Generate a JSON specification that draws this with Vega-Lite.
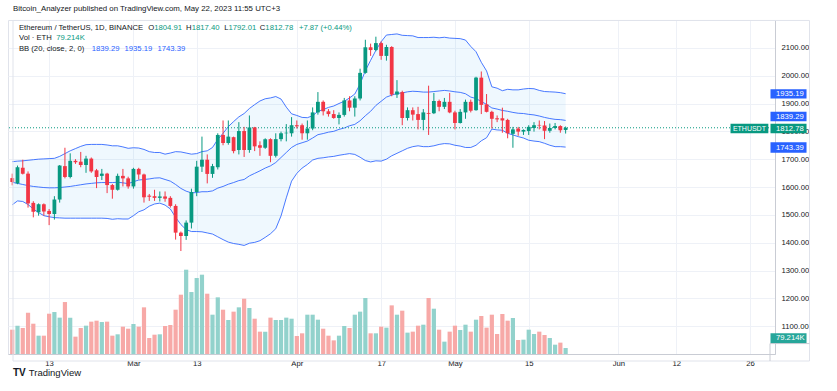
{
"$schema": "https://vega.github.io/schema/vega-lite/v6.json",
"width": 767, "height": 334,
"autosize": {"type": "none"},
"padding": {"left": 8, "top": 20, "right": 62, "bottom": 37},
"background": "#ffffff",
"config": {"view": {"stroke": "#e0e3eb"}, "font": "Liberation Sans", "axis": {"labelFont": "Liberation Sans"}},
"data": {"values": [
{"d":"2023-02-06","o":1632,"h":1648,"l":1606,"c":1618,"v":321,"bu":1691,"bm":1617,"bl":1536},
{"d":"2023-02-07","o":1613,"h":1677,"l":1610,"c":1671,"v":374,"bu":1693,"bm":1613,"bl":1550},
{"d":"2023-02-08","o":1669,"h":1698,"l":1645,"c":1648,"v":343,"bu":1694,"bm":1609,"bl":1548},
{"d":"2023-02-09","o":1648,"h":1656,"l":1526,"c":1541,"v":546,"bu":1696,"bm":1605,"bl":1537},
{"d":"2023-02-10","o":1543,"h":1549,"l":1491,"c":1511,"v":400,"bu":1698,"bm":1602,"bl":1521},
{"d":"2023-02-11","o":1509,"h":1541,"l":1497,"c":1538,"v":242,"bu":1700,"bm":1600,"bl":1508},
{"d":"2023-02-12","o":1538,"h":1541,"l":1497,"c":1512,"v":242,"bu":1701,"bm":1598,"bl":1497},
{"d":"2023-02-13","o":1514,"h":1521,"l":1463,"c":1503,"v":532,"bu":1702,"bm":1597,"bl":1493},
{"d":"2023-02-14","o":1503,"h":1567,"l":1483,"c":1555,"v":554,"bu":1703,"bm":1597,"bl":1490},
{"d":"2023-02-15","o":1555,"h":1679,"l":1544,"c":1677,"v":480,"bu":1710,"bm":1598,"bl":1489},
{"d":"2023-02-16","o":1675,"h":1741,"l":1631,"c":1636,"v":686,"bu":1720,"bm":1600,"bl":1488},
{"d":"2023-02-17","o":1636,"h":1721,"l":1631,"c":1694,"v":480,"bu":1730,"bm":1602,"bl":1488},
{"d":"2023-02-18","o":1694,"h":1700,"l":1683,"c":1689,"v":229,"bu":1738,"bm":1605,"bl":1488},
{"d":"2023-02-19","o":1691,"h":1726,"l":1671,"c":1679,"v":343,"bu":1746,"bm":1608,"bl":1488},
{"d":"2023-02-20","o":1679,"h":1712,"l":1651,"c":1702,"v":374,"bu":1752,"bm":1611,"bl":1488},
{"d":"2023-02-21","o":1702,"h":1706,"l":1651,"c":1656,"v":427,"bu":1753,"bm":1613,"bl":1488},
{"d":"2023-02-22","o":1660,"h":1665,"l":1596,"c":1636,"v":440,"bu":1753,"bm":1615,"bl":1488},
{"d":"2023-02-23","o":1640,"h":1665,"l":1625,"c":1648,"v":422,"bu":1753,"bm":1616,"bl":1488},
{"d":"2023-02-24","o":1648,"h":1651,"l":1578,"c":1607,"v":427,"bu":1751,"bm":1616,"bl":1487},
{"d":"2023-02-25","o":1607,"h":1611,"l":1558,"c":1590,"v":242,"bu":1748,"bm":1616,"bl":1484},
{"d":"2023-02-26","o":1590,"h":1648,"l":1587,"c":1640,"v":260,"bu":1748,"bm":1617,"bl":1486},
{"d":"2023-02-27","o":1640,"h":1665,"l":1602,"c":1631,"v":361,"bu":1744,"bm":1615,"bl":1485},
{"d":"2023-02-28","o":1631,"h":1637,"l":1594,"c":1602,"v":334,"bu":1739,"bm":1612,"bl":1485},
{"d":"2023-03-01","o":1602,"h":1669,"l":1594,"c":1665,"v":396,"bu":1741,"bm":1619,"bl":1497},
{"d":"2023-03-02","o":1665,"h":1669,"l":1627,"c":1645,"v":361,"bu":1740,"bm":1625,"bl":1511},
{"d":"2023-03-03","o":1645,"h":1648,"l":1544,"c":1563,"v":616,"bu":1735,"bm":1627,"bl":1518},
{"d":"2023-03-04","o":1569,"h":1575,"l":1550,"c":1565,"v":211,"bu":1727,"bm":1629,"bl":1531},
{"d":"2023-03-05","o":1567,"h":1590,"l":1550,"c":1561,"v":255,"bu":1724,"bm":1632,"bl":1539},
{"d":"2023-03-06","o":1561,"h":1584,"l":1548,"c":1566,"v":260,"bu":1724,"bm":1633,"bl":1542},
{"d":"2023-03-07","o":1566,"h":1584,"l":1547,"c":1558,"v":370,"bu":1718,"bm":1627,"bl":1535},
{"d":"2023-03-08","o":1561,"h":1567,"l":1526,"c":1532,"v":383,"bu":1722,"bm":1621,"bl":1521},
{"d":"2023-03-09","o":1532,"h":1538,"l":1411,"c":1436,"v":585,"bu":1727,"bm":1609,"bl":1491},
{"d":"2023-03-10","o":1436,"h":1440,"l":1370,"c":1424,"v":783,"bu":1726,"bm":1595,"bl":1465},
{"d":"2023-03-11","o":1424,"h":1480,"l":1410,"c":1472,"v":1113,"bu":1722,"bm":1585,"bl":1447},
{"d":"2023-03-12","o":1472,"h":1594,"l":1451,"c":1582,"v":818,"bu":1718,"bm":1579,"bl":1440},
{"d":"2023-03-13","o":1582,"h":1694,"l":1567,"c":1673,"v":1003,"bu":1720,"bm":1580,"bl":1440},
{"d":"2023-03-14","o":1673,"h":1781,"l":1654,"c":1698,"v":1047,"bu":1727,"bm":1583,"bl":1439},
{"d":"2023-03-15","o":1698,"h":1717,"l":1613,"c":1647,"v":796,"bu":1730,"bm":1583,"bl":1435},
{"d":"2023-03-16","o":1647,"h":1683,"l":1633,"c":1675,"v":519,"bu":1742,"bm":1586,"bl":1431},
{"d":"2023-03-17","o":1671,"h":1793,"l":1663,"c":1787,"v":748,"bu":1771,"bm":1596,"bl":1421},
{"d":"2023-03-18","o":1787,"h":1839,"l":1750,"c":1758,"v":585,"bu":1793,"bm":1602,"bl":1411},
{"d":"2023-03-19","o":1758,"h":1839,"l":1752,"c":1781,"v":449,"bu":1817,"bm":1610,"bl":1402},
{"d":"2023-03-20","o":1779,"h":1781,"l":1721,"c":1729,"v":559,"bu":1835,"bm":1616,"bl":1397},
{"d":"2023-03-21","o":1733,"h":1833,"l":1717,"c":1801,"v":616,"bu":1852,"bm":1623,"bl":1394},
{"d":"2023-03-22","o":1801,"h":1816,"l":1708,"c":1733,"v":730,"bu":1864,"bm":1627,"bl":1390},
{"d":"2023-03-23","o":1733,"h":1857,"l":1723,"c":1814,"v":607,"bu":1882,"bm":1640,"bl":1398},
{"d":"2023-03-24","o":1814,"h":1816,"l":1729,"c":1746,"v":466,"bu":1896,"bm":1649,"bl":1401},
{"d":"2023-03-25","o":1750,"h":1764,"l":1712,"c":1741,"v":295,"bu":1909,"bm":1658,"bl":1407},
{"d":"2023-03-26","o":1741,"h":1775,"l":1737,"c":1772,"v":295,"bu":1917,"bm":1668,"bl":1419},
{"d":"2023-03-27","o":1772,"h":1775,"l":1689,"c":1712,"v":480,"bu":1920,"bm":1676,"bl":1432},
{"d":"2023-03-28","o":1712,"h":1793,"l":1706,"c":1772,"v":449,"bu":1925,"bm":1688,"bl":1450},
{"d":"2023-03-29","o":1772,"h":1799,"l":1764,"c":1793,"v":449,"bu":1916,"bm":1706,"bl":1496},
{"d":"2023-03-30","o":1793,"h":1826,"l":1764,"c":1795,"v":480,"bu":1887,"bm":1724,"bl":1561},
{"d":"2023-03-31","o":1793,"h":1851,"l":1781,"c":1822,"v":466,"bu":1863,"bm":1742,"bl":1621},
{"d":"2023-04-01","o":1822,"h":1839,"l":1810,"c":1818,"v":238,"bu":1857,"bm":1753,"bl":1649},
{"d":"2023-04-02","o":1822,"h":1828,"l":1770,"c":1793,"v":273,"bu":1850,"bm":1759,"bl":1668},
{"d":"2023-04-03","o":1793,"h":1839,"l":1770,"c":1810,"v":519,"bu":1849,"bm":1765,"bl":1681},
{"d":"2023-04-04","o":1810,"h":1886,"l":1804,"c":1868,"v":519,"bu":1856,"bm":1776,"bl":1697},
{"d":"2023-04-05","o":1868,"h":1941,"l":1860,"c":1906,"v":453,"bu":1872,"bm":1788,"bl":1703},
{"d":"2023-04-06","o":1906,"h":1911,"l":1857,"c":1872,"v":334,"bu":1878,"bm":1792,"bl":1705},
{"d":"2023-04-07","o":1872,"h":1880,"l":1853,"c":1862,"v":242,"bu":1886,"bm":1797,"bl":1708},
{"d":"2023-04-08","o":1862,"h":1876,"l":1845,"c":1848,"v":180,"bu":1891,"bm":1800,"bl":1710},
{"d":"2023-04-09","o":1848,"h":1868,"l":1825,"c":1859,"v":242,"bu":1900,"bm":1807,"bl":1714},
{"d":"2023-04-10","o":1859,"h":1920,"l":1853,"c":1911,"v":370,"bu":1908,"bm":1812,"bl":1717},
{"d":"2023-04-11","o":1911,"h":1926,"l":1872,"c":1885,"v":343,"bu":1920,"bm":1820,"bl":1720},
{"d":"2023-04-12","o":1885,"h":1926,"l":1853,"c":1918,"v":519,"bu":1934,"bm":1825,"bl":1717},
{"d":"2023-04-13","o":1918,"h":2025,"l":1911,"c":2010,"v":559,"bu":1970,"bm":1838,"bl":1707},
{"d":"2023-04-14","o":2010,"h":2129,"l":2007,"c":2102,"v":739,"bu":2018,"bm":1856,"bl":1695},
{"d":"2023-04-15","o":2102,"h":2115,"l":2071,"c":2092,"v":273,"bu":2055,"bm":1872,"bl":1690},
{"d":"2023-04-16","o":2092,"h":2140,"l":2088,"c":2117,"v":273,"bu":2091,"bm":1893,"bl":1694},
{"d":"2023-04-17","o":2117,"h":2123,"l":2057,"c":2071,"v":361,"bu":2122,"bm":1908,"bl":1693},
{"d":"2023-04-18","o":2071,"h":2111,"l":2054,"c":2103,"v":348,"bu":2146,"bm":1923,"bl":1700},
{"d":"2023-04-19","o":2103,"h":2106,"l":1926,"c":1932,"v":642,"bu":2148,"bm":1930,"bl":1712},
{"d":"2023-04-20","o":1932,"h":1984,"l":1920,"c":1943,"v":519,"bu":2150,"bm":1936,"bl":1721},
{"d":"2023-04-21","o":1941,"h":1946,"l":1822,"c":1848,"v":572,"bu":2145,"bm":1938,"bl":1730},
{"d":"2023-04-22","o":1848,"h":1886,"l":1839,"c":1876,"v":282,"bu":2144,"bm":1942,"bl":1739},
{"d":"2023-04-23","o":1876,"h":1886,"l":1839,"c":1860,"v":295,"bu":2143,"bm":1944,"bl":1745},
{"d":"2023-04-24","o":1862,"h":1888,"l":1807,"c":1841,"v":374,"bu":2137,"bm":1943,"bl":1748},
{"d":"2023-04-25","o":1841,"h":1880,"l":1804,"c":1868,"v":387,"bu":2137,"bm":1941,"bl":1745},
{"d":"2023-04-26","o":1866,"h":1964,"l":1787,"c":1863,"v":739,"bu":2137,"bm":1941,"bl":1745},
{"d":"2023-04-27","o":1865,"h":1938,"l":1862,"c":1909,"v":598,"bu":2138,"bm":1943,"bl":1748},
{"d":"2023-04-28","o":1909,"h":1914,"l":1872,"c":1888,"v":321,"bu":2136,"bm":1945,"bl":1753},
{"d":"2023-04-29","o":1888,"h":1920,"l":1880,"c":1906,"v":163,"bu":2138,"bm":1947,"bl":1756},
{"d":"2023-04-30","o":1906,"h":1938,"l":1865,"c":1868,"v":295,"bu":2135,"bm":1945,"bl":1755},
{"d":"2023-05-01","o":1868,"h":1874,"l":1807,"c":1830,"v":374,"bu":2134,"bm":1942,"bl":1750},
{"d":"2023-05-02","o":1830,"h":1880,"l":1828,"c":1870,"v":317,"bu":2133,"bm":1940,"bl":1747},
{"d":"2023-05-03","o":1868,"h":1914,"l":1845,"c":1906,"v":387,"bu":2128,"bm":1935,"bl":1742},
{"d":"2023-05-04","o":1906,"h":1914,"l":1868,"c":1874,"v":295,"bu":2105,"bm":1923,"bl":1742},
{"d":"2023-05-05","o":1876,"h":1996,"l":1874,"c":1993,"v":453,"bu":2086,"bm":1918,"bl":1750},
{"d":"2023-05-06","o":1993,"h":2015,"l":1862,"c":1895,"v":502,"bu":2048,"bm":1907,"bl":1766},
{"d":"2023-05-07","o":1897,"h":1934,"l":1868,"c":1870,"v":348,"bu":2017,"bm":1897,"bl":1777},
{"d":"2023-05-08","o":1870,"h":1874,"l":1810,"c":1845,"v":519,"bu":1960,"bm":1884,"bl":1808},
{"d":"2023-05-09","o":1847,"h":1857,"l":1833,"c":1843,"v":264,"bu":1955,"bm":1880,"bl":1805},
{"d":"2023-05-10","o":1847,"h":1885,"l":1795,"c":1839,"v":528,"bu":1946,"bm":1875,"bl":1804},
{"d":"2023-05-11","o":1841,"h":1845,"l":1775,"c":1793,"v":440,"bu":1951,"bm":1872,"bl":1793},
{"d":"2023-05-12","o":1791,"h":1816,"l":1741,"c":1807,"v":475,"bu":1949,"bm":1868,"bl":1787},
{"d":"2023-05-13","o":1810,"h":1816,"l":1784,"c":1799,"v":185,"bu":1949,"bm":1865,"bl":1781},
{"d":"2023-05-14","o":1799,"h":1807,"l":1787,"c":1805,"v":189,"bu":1952,"bm":1864,"bl":1776},
{"d":"2023-05-15","o":1801,"h":1822,"l":1787,"c":1816,"v":321,"bu":1954,"bm":1861,"bl":1768},
{"d":"2023-05-16","o":1812,"h":1833,"l":1799,"c":1822,"v":264,"bu":1953,"bm":1859,"bl":1765},
{"d":"2023-05-17","o":1823,"h":1839,"l":1807,"c":1821,"v":295,"bu":1947,"bm":1855,"bl":1763},
{"d":"2023-05-18","o":1821,"h":1837,"l":1772,"c":1802,"v":251,"bu":1943,"bm":1850,"bl":1757},
{"d":"2023-05-19","o":1802,"h":1828,"l":1795,"c":1812,"v":211,"bu":1942,"bm":1846,"bl":1750},
{"d":"2023-05-20","o":1812,"h":1830,"l":1807,"c":1819,"v":123,"bu":1941,"bm":1843,"bl":1745},
{"d":"2023-05-21","o":1819,"h":1822,"l":1795,"c":1804,"v":150,"bu":1939,"bm":1842,"bl":1745},
{"d":"2023-05-22","o":1804.91,"h":1817.40,"l":1792.01,"c":1812.78,"v":79.214,"bu":1935.19,"bm":1839.29,"bl":1743.39}
]},
"layer": [
{
"mark": {"type": "bar", "width": 4.2, "clip": true},
"encoding": {
"x": {"field": "d", "type": "temporal", "scale": {"type": "utc", "domain": [1675654200000, 1688064000000]},
"axis": {"orient": "bottom", "title": null, "values": [1676246400000, 1677628800000, 1678665600000, 1680307200000, 1681689600000, 1682899200000, 1684108800000, 1685577600000, 1686528000000, 1687737600000], "tickCount": 30,
"labelExpr": "utcdate(datum.value) == 1 ? utcFormat(datum.value, '%b') : utcFormat(datum.value, '%-d')",
"ticks": false, "labelPadding": 5, "labelFontSize": 7.7, "labelColor": "#131722", "domainColor": "#c9ccd4", "grid": true, "gridColor": "#eef1f7", "labelFlush": false, "labelOverlap": false}},
"y": {"field": "v", "type": "quantitative", "scale": {"domain": [0, 4409]}, "axis": null},
"color": {"condition": {"test": "datum.c >= datum.o", "value": "#92d2cc"}, "value": "#f7a9a7"}
}
},
{
"layer": [
{
"mark": {"type": "area", "color": "#2196F3", "opacity": 0.07, "clip": true},
"encoding": {
"x": {"field": "d", "type": "temporal", "scale": {"type": "utc", "domain": [1675654200000, 1688064000000]}},
"y": {"field": "bl", "type": "quantitative", "scale": {"domain": [1037.4, 2198.4]},
"axis": {"orient": "right", "title": null, "values": [1100, 1200, 1300, 1400, 1500, 1600, 1700, 1800, 1900, 2000, 2100], "tickCount": 30, "format": ".2f", "ticks": false, "labelPadding": 6, "labelFontSize": 7.7, "labelColor": "#131722", "domainColor": "#c9ccd4", "grid": true, "gridColor": "#eef1f7", "labelOverlap": false, "labelFlush": false}},
"y2": {"field": "bu"}
}
},
{"mark": {"type": "line", "color": "#2962FF", "strokeWidth": 1, "opacity": 0.85, "clip": true},
"encoding": {"x": {"field": "d", "type": "temporal"}, "y": {"field": "bu", "type": "quantitative"}}},
{"mark": {"type": "line", "color": "#2962FF", "strokeWidth": 1, "opacity": 0.85, "clip": true},
"encoding": {"x": {"field": "d", "type": "temporal"}, "y": {"field": "bm", "type": "quantitative"}}},
{"mark": {"type": "line", "color": "#2962FF", "strokeWidth": 1, "opacity": 0.85, "clip": true},
"encoding": {"x": {"field": "d", "type": "temporal"}, "y": {"field": "bl", "type": "quantitative"}}},
{"data": {"values": [{}]}, "mark": {"type": "rule", "color": "#089981", "strokeDash": [1, 2], "strokeWidth": 1, "clip": true},
"encoding": {"y": {"datum": 1812.78, "type": "quantitative"}}},
{"mark": {"type": "rule", "strokeWidth": 1, "clip": true},
"encoding": {"x": {"field": "d", "type": "temporal"}, "y": {"field": "l", "type": "quantitative"}, "y2": {"field": "h"},
"color": {"condition": {"test": "datum.c >= datum.o", "value": "#089981"}, "value": "#f23645"}}},
{"mark": {"type": "bar", "width": 3.8, "clip": true},
"encoding": {"x": {"field": "d", "type": "temporal"}, "y": {"field": "o", "type": "quantitative"}, "y2": {"field": "c"},
"color": {"condition": {"test": "datum.c >= datum.o", "value": "#089981"}, "value": "#f23645"}}},

{"data": {"values": [{}]}, "mark": {"type": "rect", "color": "#2962FF", "clip": false},
"encoding": {"x": {"datum": 1688072090000, "type": "temporal"}, "x2": {"datum": 1688662760000}, "y": {"datum": 1951.6, "type": "quantitative"}, "y2": {"datum": 1917.9}}},
{"data": {"values": [{}]}, "mark": {"type": "text", "color": "#ffffff", "align": "left", "baseline": "middle", "fontSize": 7.7, "clip": false},
"encoding": {"x": {"datum": 1688161186530, "type": "temporal"}, "y": {"datum": 1934.5, "type": "quantitative"}, "text": {"value": "1935.19"}}},
{"data": {"values": [{}]}, "mark": {"type": "rect", "color": "#2962FF", "clip": false},
"encoding": {"x": {"datum": 1688072090000, "type": "temporal"}, "x2": {"datum": 1688662760000}, "y": {"datum": 1870.6, "type": "quantitative"}, "y2": {"datum": 1835.8}}},
{"data": {"values": [{}]}, "mark": {"type": "text", "color": "#ffffff", "align": "left", "baseline": "middle", "fontSize": 7.7, "clip": false},
"encoding": {"x": {"datum": 1688161186530, "type": "temporal"}, "y": {"datum": 1853.2, "type": "quantitative"}, "text": {"value": "1839.29"}}},
{"data": {"values": [{}]}, "mark": {"type": "rect", "color": "#089981", "clip": false},
"encoding": {"x": {"datum": 1688072090000, "type": "temporal"}, "x2": {"datum": 1688662760000}, "y": {"datum": 1827.5, "type": "quantitative"}, "y2": {"datum": 1792.7}}},
{"data": {"values": [{}]}, "mark": {"type": "text", "color": "#ffffff", "align": "left", "baseline": "middle", "fontSize": 7.7, "clip": false},
"encoding": {"x": {"datum": 1688161186530, "type": "temporal"}, "y": {"datum": 1810.1, "type": "quantitative"}, "text": {"value": "1812.78"}}},
{"data": {"values": [{}]}, "mark": {"type": "rect", "color": "#089981", "clip": false},
"encoding": {"x": {"datum": 1687416916867, "type": "temporal"}, "x2": {"datum": 1688036602261}, "y": {"datum": 1827.5, "type": "quantitative"}, "y2": {"datum": 1792.7}}},
{"data": {"values": [{}]}, "mark": {"type": "text", "color": "#ffffff", "align": "center", "baseline": "middle", "fontSize": 7, "clip": false},
"encoding": {"x": {"datum": 1687726759564, "type": "temporal"}, "y": {"datum": 1810.1, "type": "quantitative"}, "text": {"value": "ETHUSDT"}}},
{"data": {"values": [{}]}, "mark": {"type": "rect", "color": "#2962FF", "clip": false},
"encoding": {"x": {"datum": 1688072090000, "type": "temporal"}, "x2": {"datum": 1688662760000}, "y": {"datum": 1760.4, "type": "quantitative"}, "y2": {"datum": 1723.2}}},
{"data": {"values": [{}]}, "mark": {"type": "text", "color": "#ffffff", "align": "left", "baseline": "middle", "fontSize": 7.7, "clip": false},
"encoding": {"x": {"datum": 1688161186530, "type": "temporal"}, "y": {"datum": 1741.9, "type": "quantitative"}, "text": {"value": "1743.39"}}},
{"data": {"values": [{}]}, "mark": {"type": "rect", "color": "#26a69a", "clip": false},
"encoding": {"x": {"datum": 1688072090000, "type": "temporal"}, "x2": {"datum": 1688662760000}, "y": {"datum": 1074.6, "type": "quantitative"}, "y2": {"datum": 1037.4}}},
{"data": {"values": [{}]}, "mark": {"type": "text", "color": "#ffffff", "align": "left", "baseline": "middle", "fontSize": 7.7, "clip": false},
"encoding": {"x": {"datum": 1688161186530, "type": "temporal"}, "y": {"datum": 1055.8, "type": "quantitative"}, "text": {"value": "79.214K"}}},

{"data": {"values": [{}]}, "mark": {"type": "rule", "color": "#e0e3eb", "clip": false},
"encoding": {"x": {"datum": 1688711299091, "type": "temporal"}, "y": {"datum": 2198.4, "type": "quantitative"}, "y2": {"datum": 974.8}}},
{"data": {"values": [{}]}, "mark": {"type": "rule", "color": "#e0e3eb", "clip": false},
"encoding": {"x": {"datum": 1675654200000, "type": "temporal"}, "x2": {"datum": 1688711299091}, "y": {"datum": 974.8, "type": "quantitative"}}},
{"data": {"values": [{}]}, "mark": {"type": "rule", "color": "#e0e3eb", "clip": false},
"encoding": {"x": {"datum": 1675654200000, "type": "temporal"}, "x2": {"datum": 1688711299091}, "y": {"datum": 2198.4, "type": "quantitative"}}},
{"data": {"values": [{}]}, "mark": {"type": "rule", "color": "#e0e3eb", "clip": false},
"encoding": {"x": {"datum": 1675654200000, "type": "temporal"}, "y": {"datum": 2198.4, "type": "quantitative"}, "y2": {"datum": 974.8}}},
{"data": {"values": [{}]}, "mark": {"type": "rule", "color": "#c9ccd4", "clip": false},
"encoding": {"x": {"datum": 1688064000000, "type": "temporal"}, "y": {"datum": 1037.4, "type": "quantitative"}, "y2": {"datum": 974.8}}},
{"data": {"values": [{}]}, "mark": {"type": "rule", "color": "#c9ccd4", "clip": false},
"encoding": {"x": {"datum": 1688064000000, "type": "temporal"}, "x2": {"datum": 1688711299091}, "y": {"datum": 1037.4, "type": "quantitative"}}},

{"data": {"values": [{}]}, "mark": {"type": "text", "color": "#131722", "align": "left", "baseline": "alphabetic", "fontSize": 7.85, "clip": false},
"encoding": {"x": {"datum": 1675654200000, "type": "temporal"}, "y": {"datum": 2230.7, "type": "quantitative"}, "text": {"value": "Bitcoin_Analyzer published on TradingView.com, May 22, 2023 11:55 UTC+3"}}},

{"data": {"values": [{}]}, "mark": {"type": "text", "color": "#131722", "align": "left", "baseline": "alphabetic", "fontSize": 7.7, "clip": false},
"encoding": {"x": {"datum": 1675751298876, "type": "temporal"}, "y": {"datum": 2165.3, "type": "quantitative"}, "text": {"value": "Ethereum / TetherUS, 1D, BINANCE"}}},
{"data": {"values": [{}]}, "mark": {"type": "text", "color": "#131722", "align": "right", "baseline": "alphabetic", "fontSize": 7.7, "clip": false},
"encoding": {"x": {"datum": 1677967928092, "type": "temporal"}, "y": {"datum": 2165.3, "type": "quantitative"}, "text": {"value": "O"}}},
{"data": {"values": [{}]}, "mark": {"type": "text", "color": "#089981", "align": "left", "baseline": "alphabetic", "fontSize": 7.7, "clip": false},
"encoding": {"x": {"datum": 1677967928092, "type": "temporal"}, "y": {"datum": 2165.3, "type": "quantitative"}, "text": {"value": "1804.91"}}},
{"data": {"values": [{}]}, "mark": {"type": "text", "color": "#131722", "align": "right", "baseline": "alphabetic", "fontSize": 7.7, "clip": false},
"encoding": {"x": {"datum": 1678582759553, "type": "temporal"}, "y": {"datum": 2165.3, "type": "quantitative"}, "text": {"value": "H"}}},
{"data": {"values": [{}]}, "mark": {"type": "text", "color": "#089981", "align": "left", "baseline": "alphabetic", "fontSize": 7.7, "clip": false},
"encoding": {"x": {"datum": 1678582759553, "type": "temporal"}, "y": {"datum": 2165.3, "type": "quantitative"}, "text": {"value": "1817.40"}}},
{"data": {"values": [{}]}, "mark": {"type": "text", "color": "#131722", "align": "right", "baseline": "alphabetic", "fontSize": 7.7, "clip": false},
"encoding": {"x": {"datum": 1679186265172, "type": "temporal"}, "y": {"datum": 2165.3, "type": "quantitative"}, "text": {"value": "L"}}},
{"data": {"values": [{}]}, "mark": {"type": "text", "color": "#089981", "align": "left", "baseline": "alphabetic", "fontSize": 7.7, "clip": false},
"encoding": {"x": {"datum": 1679186265172, "type": "temporal"}, "y": {"datum": 2165.3, "type": "quantitative"}, "text": {"value": "1792.01"}}},
{"data": {"values": [{}]}, "mark": {"type": "text", "color": "#131722", "align": "right", "baseline": "alphabetic", "fontSize": 7.7, "clip": false},
"encoding": {"x": {"datum": 1679791388768, "type": "temporal"}, "y": {"datum": 2165.3, "type": "quantitative"}, "text": {"value": "C"}}},
{"data": {"values": [{}]}, "mark": {"type": "text", "color": "#089981", "align": "left", "baseline": "alphabetic", "fontSize": 7.7, "clip": false},
"encoding": {"x": {"datum": 1679791388768, "type": "temporal"}, "y": {"datum": 2165.3, "type": "quantitative"}, "text": {"value": "1812.78"}}},
{"data": {"values": [{}]}, "mark": {"type": "text", "color": "#089981", "align": "left", "baseline": "alphabetic", "fontSize": 7.7, "clip": false},
"encoding": {"x": {"datum": 1680341501128, "type": "temporal"}, "y": {"datum": 2165.3, "type": "quantitative"}, "text": {"value": "+7.87 (+0.44%)"}}},

{"data": {"values": [{}]}, "mark": {"type": "text", "color": "#131722", "align": "left", "baseline": "alphabetic", "fontSize": 7.7, "clip": false},
"encoding": {"x": {"datum": 1675751298876, "type": "temporal"}, "y": {"datum": 2127.1, "type": "quantitative"}, "text": {"value": "Vol · ETH"}}},
{"data": {"values": [{}]}, "mark": {"type": "text", "color": "#089981", "align": "left", "baseline": "alphabetic", "fontSize": 7.7, "clip": false},
"encoding": {"x": {"datum": 1676361276405, "type": "temporal"}, "y": {"datum": 2127.1, "type": "quantitative"}, "text": {"value": "79.214K"}}},

{"data": {"values": [{}]}, "mark": {"type": "text", "color": "#131722", "align": "left", "baseline": "alphabetic", "fontSize": 7.7, "clip": false},
"encoding": {"x": {"datum": 1675751298876, "type": "temporal"}, "y": {"datum": 2088.9, "type": "quantitative"}, "text": {"value": "BB (20, close, 2, 0)"}}},
{"data": {"values": [{}]}, "mark": {"type": "text", "color": "#2962FF", "align": "left", "baseline": "alphabetic", "fontSize": 7.7, "clip": false},
"encoding": {"x": {"datum": 1676943748315, "type": "temporal"}, "y": {"datum": 2088.9, "type": "quantitative"}, "text": {"value": "1839.29"}}},
{"data": {"values": [{}]}, "mark": {"type": "text", "color": "#2962FF", "align": "left", "baseline": "alphabetic", "fontSize": 7.7, "clip": false},
"encoding": {"x": {"datum": 1677482534833, "type": "temporal"}, "y": {"datum": 2088.9, "type": "quantitative"}, "text": {"value": "1935.19"}}},
{"data": {"values": [{}]}, "mark": {"type": "text", "color": "#2962FF", "align": "left", "baseline": "alphabetic", "fontSize": 7.7, "clip": false},
"encoding": {"x": {"datum": 1678021321350, "type": "temporal"}, "y": {"datum": 2088.9, "type": "quantitative"}, "text": {"value": "1743.39"}}},

{"data": {"values": [{}]}, "mark": {"type": "text", "color": "#131722", "align": "left", "baseline": "middle", "fontSize": 10, "fontWeight": 900, "clip": false},
"encoding": {"x": {"datum": 1675654200000, "type": "temporal"}, "y": {"datum": 933, "type": "quantitative"}, "text": {"value": "TV"}}},
{"data": {"values": [{}]}, "mark": {"type": "text", "color": "#131722", "align": "left", "baseline": "middle", "fontSize": 9.5, "clip": false},
"encoding": {"x": {"datum": 1675913096629, "type": "temporal"}, "y": {"datum": 933, "type": "quantitative"}, "text": {"value": "TradingView"}}}
]
}
],
"resolve": {"scale": {"y": "independent"}}
}
